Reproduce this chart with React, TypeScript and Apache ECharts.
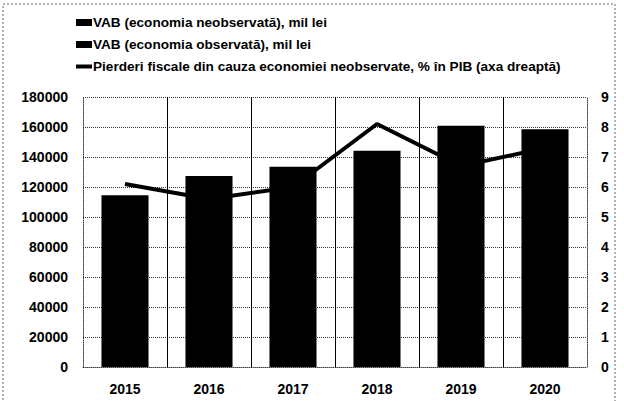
import React, { useEffect, useRef } from "react";
import * as echarts from "echarts";

const years = ["2015", "2016", "2017", "2018", "2019", "2020"];
const vabNeobservata = [26000, 28000, 30000, 34000, 36000, 36000];
const vabObservata = [88500, 99300, 103500, 110200, 124900, 122500];
const pierderiFiscale = [6.1, 5.6, 6.0, 8.1, 6.7, 7.3];

const leftTicks = { min: 0, max: 180000, interval: 20000 };
const rightTicks = { min: 0, max: 9, interval: 1 };

const nameNeobs = "VAB (economia neobservată), mil lei";
const nameObs = "VAB (economia observată), mil lei";
const nameLine = "Pierderi fiscale din cauza economiei neobservate, % în PIB (axa dreaptă)";

const font = "'Liberation Sans', Arial, sans-serif";

export default function App() {
  const ref = useRef<HTMLDivElement>(null);
  useEffect(() => {
    if (!ref.current) return;
    const chart = echarts.init(ref.current, null, { renderer: "svg" });
    chart.setOption({
      animation: false,
      backgroundColor: "#ffffff",
      legend: {
        orient: "vertical",
        left: 76,
        top: 15,
        padding: 0,
        itemGap: 7,
        itemWidth: 16,
        itemHeight: 7,
        data: [
          { name: nameNeobs, icon: "rect" },
          { name: nameObs, icon: "rect" },
          { name: nameLine, icon: "path://M0,0 L16,0 L16,4 L0,4 Z" },
        ],
        textStyle: {
          fontFamily: font,
          fontWeight: "bold",
          fontSize: 13.6,
          lineHeight: 15,
          color: "#000",
          padding: [0, 0, 0, -4],
        },
      },
      grid: { left: 83, right: 37, top: 97, bottom: 34 },
      xAxis: {
        type: "category",
        data: years,
        axisLine: { show: true, lineStyle: { color: "#444", type: "dotted" } },
        axisTick: { show: false },
        axisLabel: {
          fontFamily: font,
          fontWeight: "bold",
          fontSize: 14,
          color: "#000",
          margin: 15,
        },
        splitLine: {
          show: true,
          showMinLine: false,
          showMaxLine: false,
          lineStyle: { color: "#000", width: 1, type: "solid" },
        },
      },
      yAxis: [
        {
          type: "value",
          ...leftTicks,
          axisLine: { show: true, lineStyle: { color: "#444", type: "dotted" } },
          axisTick: { show: false },
          axisLabel: {
            fontFamily: font,
            fontWeight: "bold",
            fontSize: 14,
            color: "#000",
            margin: 15,
            formatter: (v: number) => String(v),
          },
          splitLine: { show: true, lineStyle: { color: "#333", type: "dotted", width: 1 } },
        },
        {
          type: "value",
          ...rightTicks,
          position: "right",
          axisLine: { show: true, lineStyle: { color: "#444", type: "dotted" } },
          axisTick: { show: false },
          axisLabel: {
            fontFamily: font,
            fontWeight: "bold",
            fontSize: 14,
            color: "#000",
            margin: 14,
          },
          splitLine: { show: false },
        },
      ],
      series: [
        {
          name: nameNeobs,
          type: "bar",
          stack: "vab",
          barWidth: "56%",
          data: vabNeobservata,
          itemStyle: { color: "#000" },
        },
        {
          name: nameObs,
          type: "bar",
          stack: "vab",
          barWidth: "56%",
          data: vabObservata,
          itemStyle: { color: "#000" },
        },
        {
          name: nameLine,
          type: "line",
          yAxisIndex: 1,
          data: pierderiFiscale,
          symbol: "none",
          lineStyle: { color: "#000", width: 4 },
          itemStyle: { color: "#000" },
          z: 5,
        },
      ],
      graphic: [
        {
          type: "rect",
          shape: { x: 3, y: 4, width: 612, height: 410 },
          style: { fill: "none", stroke: "#666", lineWidth: 1, lineDash: [2, 2] },
          silent: true,
        },
      ],
    });
    return () => chart.dispose();
  }, []);
  return (
    <div
      ref={ref}
      style={{ position: "fixed", left: 0, top: 0, width: 624, height: 401 }}
    />
  );
}
